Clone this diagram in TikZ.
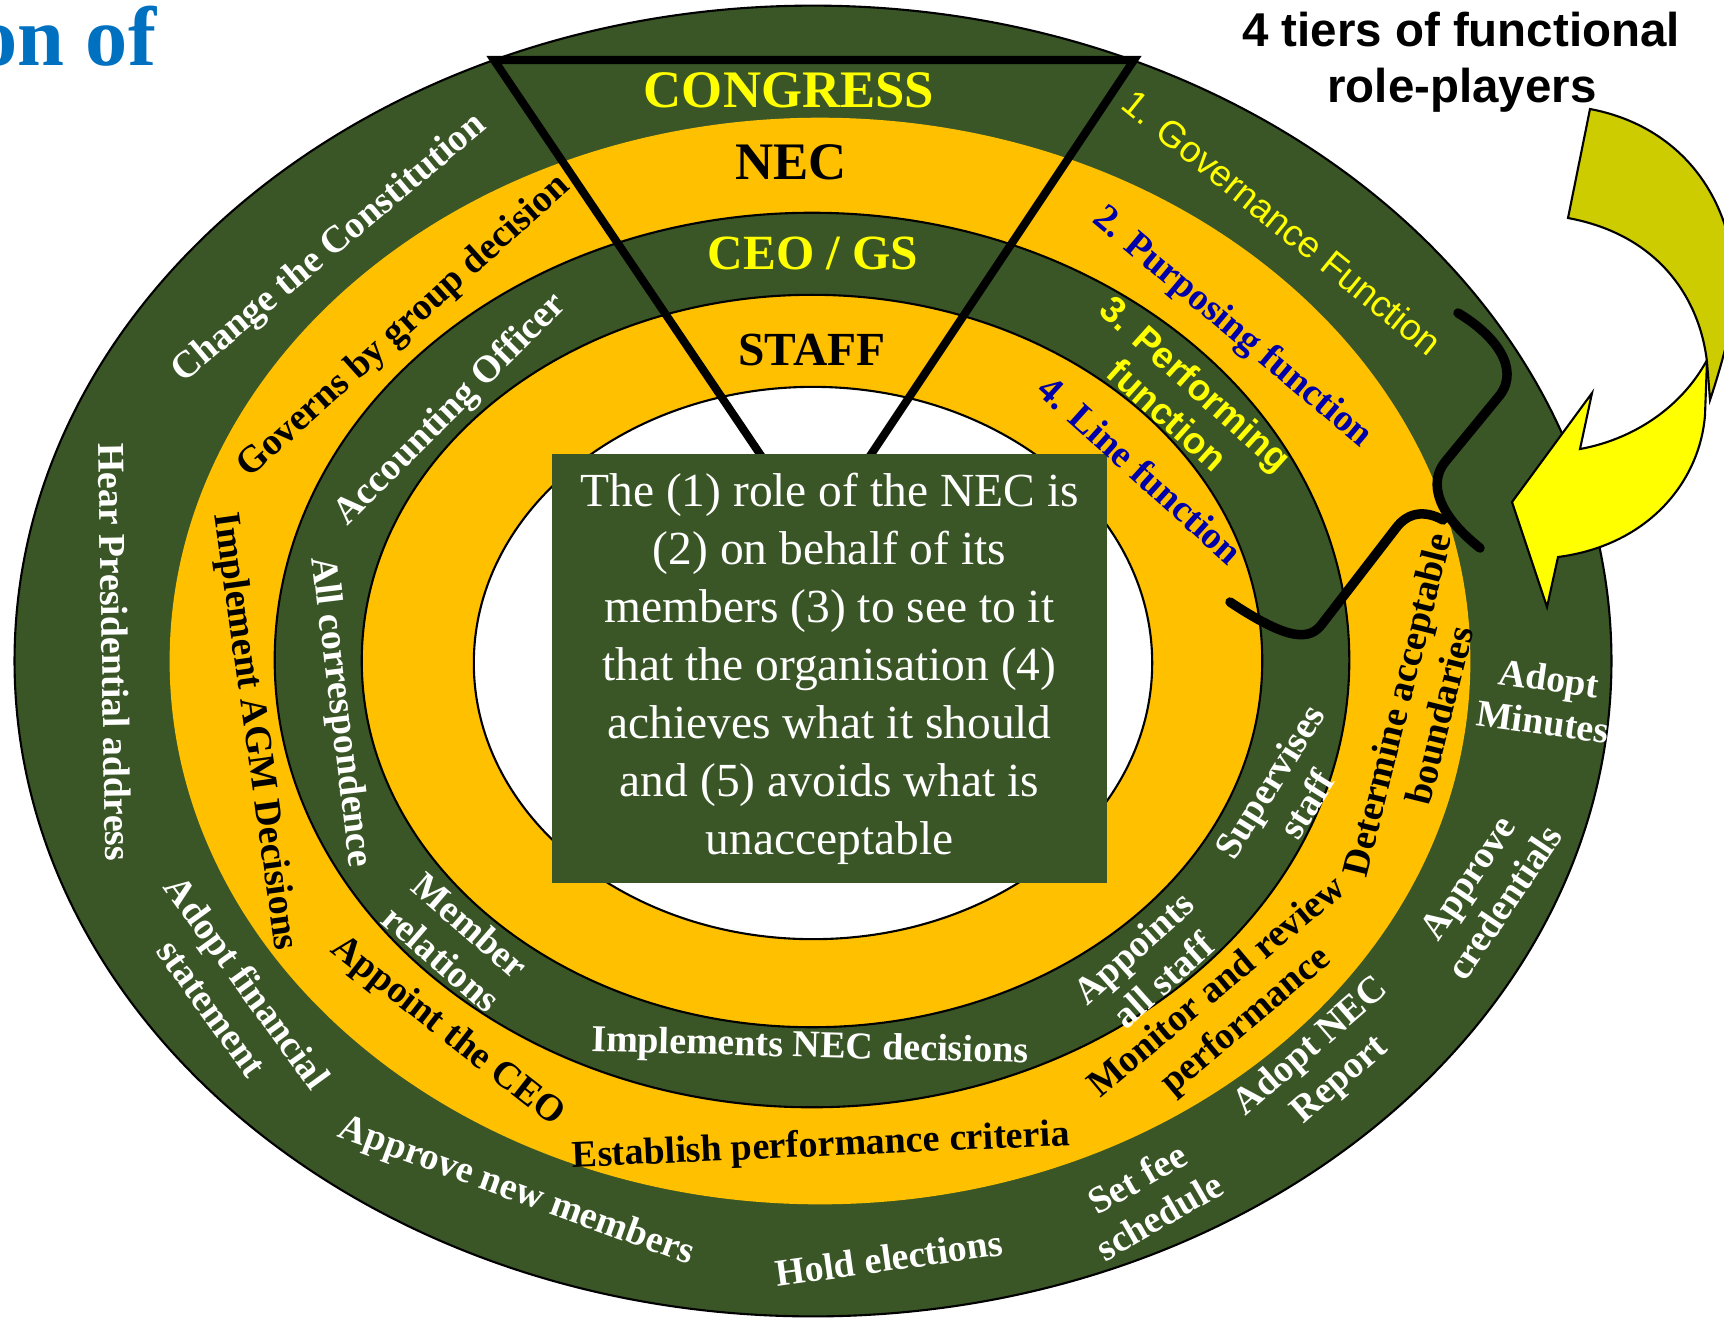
\documentclass[tikz,border=0pt]{standalone}
\usepackage{fontspec}
\setmainfont{Liberation Serif}
\newfontfamily\arialf{Liberation Sans}
\definecolor{rg}{RGB}{58,86,38}
\definecolor{ry}{RGB}{255,192,0}
\definecolor{ty}{RGB}{255,255,0}
\definecolor{tb}{RGB}{0,0,170}
\definecolor{ol}{RGB}{204,204,0}
\definecolor{ttl}{RGB}{0,112,192}
\begin{document}
\begin{tikzpicture}[x=0.01cm,y=-0.01cm,
  lab/.style={font=\bfseries\fontsize{10.8}{12.5}\selectfont, align=center, inner sep=0pt},
  wl/.style={lab,text=white},
  bl/.style={lab,text=black},
  blu/.style={lab,text=tb},
  big/.style={inner sep=0pt},
  ring/.style={draw=black,line width=0.6pt},
  brk/.style={line width=2.7pt,line cap=round,line join=round},
  arr/.style={draw=black,line width=0.6pt,line join=miter}
]
\useasboundingbox (0,0) rectangle (1724,1317);
\fill[white] (0,0) rectangle (1724,1317);

% rings
\draw[ring,fill=rg] (813,661) ellipse [x radius=7.98cm, y radius=6.55cm];
\fill[ry] (820,661) ellipse [x radius=6.50cm, y radius=5.43cm];
\draw[ring,fill=rg] (812,660) ellipse [x radius=5.37cm, y radius=4.47cm];
\draw[ring,fill=ry] (812,661) ellipse [x radius=4.50cm, y radius=3.66cm];
\draw[ring,fill=white] (813,663) ellipse [x radius=3.39cm, y radius=2.76cm];

% triangle
\coordinate (tl) at (494,60);
\coordinate (tr) at (1134,60);
\coordinate (ap) at (816,537);
\draw[line width=2.3pt,line join=miter] (tl) -- (tr) -- (ap) -- cycle;

% central box
\node[fill=rg, minimum width=5.55cm, minimum height=4.29cm, inner sep=0pt, text=white,
  align=center, font=\fontsize{13.5}{16.5}\selectfont] (box) at (829.5,668.5)
  {The (1) role of the NEC is\\(2) on behalf of its\\members (3) to see to it\\that the organisation (4)\\achieves what it should\\and (5) avoids what is\\unacceptable};

% tier names
\node[big,text=ty,font=\bfseries\fontsize{15}{17}\selectfont] (congress) at (789,90) {CONGRESS};
\node[big,font=\bfseries\fontsize{15}{17}\selectfont] (nec) at (791,162) {NEC};
\node[big,text=ty,font=\bfseries\fontsize{14}{16}\selectfont] (ceo) at (813,253) {CEO / GS};
\node[big,font=\bfseries\fontsize{13.5}{16}\selectfont] (staff) at (812,350) {STAFF};

% outer ring
\node[wl, rotate=40] (chg) at (330,249) {Change the Constitution};
\node[wl, rotate=-89] (hear) at (115,652) {Hear Presidential address};
\node[wl, rotate=-54] (adfin) at (230,995) {Adopt financial\\statement};
\node[wl, rotate=-20] (appnew) at (516,1192) {Approve new members};
\node[wl, rotate=8] (hold) at (889,1258) {Hold elections};
\node[wl, rotate=30] (setfee) at (1148,1197) {Set fee\\schedule};
\node[wl, rotate=41] (adnec) at (1326,1064) {Adopt NEC\\Report};
\node[wl, rotate=56] (appcred) at (1486,890) {Approve\\credentials};
\node[wl, rotate=-8] (admin) at (1546,700) {Adopt\\Minutes};
\node[lab, font=\arialf\fontsize{10.5}{13}\selectfont, text=ty, rotate=-39] (govf) at (1282,222) {1. Governance Function};

% yellow ring
\node[bl, rotate=42] (governs) at (404,327) {Governs by group decision};
\node[bl, rotate=-82] (implagm) at (254,732) {Implement AGM Decisions};
\node[bl, rotate=-38] (appceo) at (447,1032) {Appoint the CEO};
\node[bl, rotate=2.5] (estab) at (821,1147) {Establish performance criteria};
\node[bl, rotate=40] (monitor) at (1232,1005) {Monitor and review\\performance};
\node[bl, rotate=76] (determine) at (1418,710) {Determine acceptable\\boundaries};
\node[blu, rotate=-40] (purp) at (1232,328) {2. Purposing function};

% CEO ring
\node[wl, rotate=45] (acct) at (451,410) {Accounting Officer};
\node[wl, rotate=-83] (allcorr) at (340,712) {All correspondence};
\node[wl, rotate=-41] (member) at (456,942) {Member\\relations};
\node[wl, rotate=-1.5] (implnec) at (810,1048) {Implements NEC decisions};
\node[wl, rotate=42] (appst) at (1148,964) {Appoints\\all staff};
\node[wl, rotate=58] (superv) at (1288,793) {Supervises\\staff};
\node[lab, font=\arialf\bfseries\fontsize{10.5}{12}\selectfont, text=ty, rotate=-42] (perf) at (1182,399) {3. Performing\\function};

% staff ring
\node[blu, rotate=-42] (linef) at (1141,470) {4. Line function};

% brackets
\draw[brk] (1458,313) .. controls (1495,335) and (1520,368) .. (1500,395) -- (1445,462)
  .. controls (1428,483) and (1438,515) .. (1480,548);
\draw[brk] (1443,520) .. controls (1425,510) and (1408,512) .. (1396,528) -- (1322,624)
  .. controls (1310,640) and (1290,642) .. (1230,602);

% curved arrow
\draw[arr,fill=ty] (1707,360) -- (1705,415) .. controls (1700,480) and (1650,545) .. (1558,557)
  -- (1547,607) -- (1512,502) -- (1592,393) -- (1580,449)
  .. controls (1630,440) and (1680,410) .. (1707,360) -- cycle;
\draw[arr,fill=ol] (1590,109) .. controls (1675,125) and (1730,190) .. (1735,280)
  .. controls (1738,310) and (1720,370) .. (1710,400) -- (1707,362)
  .. controls (1700,300) and (1660,235) .. (1568,218) -- cycle;

% titles
\node[anchor=base east, inner sep=0pt, text=ttl, font=\bfseries\fontsize{24}{28}\selectfont] (title) at (157,65) {on of};
\node[anchor=base, inner sep=0pt, font=\arialf\bfseries\fontsize{13.5}{16}\selectfont] (tiers1) at (1461,46) {4 tiers of functional};
\node[anchor=base, inner sep=0pt, font=\arialf\bfseries\fontsize{13.5}{16}\selectfont] (tiers2) at (1462,102) {role-players};
\end{tikzpicture}
\end{document}
